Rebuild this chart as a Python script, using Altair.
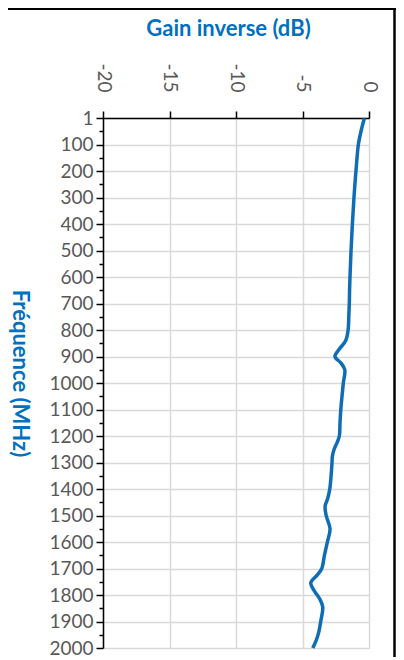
import altair as alt
import pandas as pd

freq = [1, 50, 100, 150, 200, 250, 300, 350, 400, 450,
        500, 550, 600, 650, 700, 750, 800, 840, 870, 900,
        925, 950, 1000, 1050, 1100, 1150, 1200, 1225, 1250, 1275,
        1300, 1350, 1400, 1435, 1465, 1500, 1550, 1600, 1650, 1700,
        1725, 1755, 1785, 1815, 1845, 1900, 1945, 1975, 2000]
gain = [-0.35, -0.6, -0.8, -0.9, -0.98, -1.06, -1.13, -1.19, -1.25, -1.3,
        -1.35, -1.39, -1.43, -1.46, -1.48, -1.52, -1.57, -1.75, -2.2, -2.56,
        -2.1, -1.82, -1.93, -2.03, -2.12, -2.18, -2.23, -2.4, -2.62, -2.75,
        -2.78, -2.85, -2.95, -3.1, -3.3, -3.22, -2.93, -3.13, -3.35, -3.55,
        -3.9, -4.38, -4.1, -3.7, -3.48, -3.63, -3.8, -4.0, -4.23]

x_ticks = [-20, -15, -10, -5, 0]
y_ticks = list(range(0, 2001, 50))

df = pd.DataFrame({"freq": freq, "gain": gain})

FONT = "Lato"
BLUE = "#0070C0"
GREY = "#595959"

line = alt.Chart(df).mark_line(
    color="#0F6DB5", strokeWidth=3.5, interpolate="catmull-rom"
).encode(
    x=alt.X("gain:Q",
            scale=alt.Scale(domain=[-20, 0], nice=False, zero=False),
            axis=alt.Axis(orient="top", values=x_ticks, title="Gain inverse (dB)",
                          titleFont=FONT, titleFontSize=22, titleFontWeight="bold",
                          titleColor=BLUE, titleX=125, titleY=-83,
                          titleAlign="center", titleBaseline="alphabetic",
                          labelExpr="'' + datum.value",
                          labelAngle=90, labelAlign="right", labelBaseline="middle",
                          labelFont=FONT, labelFontSize=19, labelColor=GREY,
                          labelPadding=19, tickSize=7, tickColor="black", tickWidth=1.5,
                          domainColor="black", domainWidth=1.5,
                          gridColor="#d9d9d9", gridWidth=1.5)),
    y=alt.Y("freq:Q",
            scale=alt.Scale(domain=[0, 2000], reverse=True, nice=False, zero=False),
            axis=alt.Axis(orient="left", values=y_ticks, title="Fréquence (MHz)",
                          titleFont=FONT, titleFontSize=22, titleFontWeight="bold",
                          titleColor=BLUE, titleAngle=90, titleX=-91, titleY=255,
                          titleAlign="center", titleBaseline="alphabetic",
                          labelExpr="datum.value == 0 ? '1' : (datum.value % 100 == 0 ? '' + datum.value : '')",
                          labelFont=FONT, labelFontSize=19, labelColor=GREY,
                          labelPadding=3,
                          tickSize={"condition": {"test": "datum.value % 100 == 0", "value": 7}, "value": 4},
                          tickColor="black", tickWidth=1.5,
                          domainColor="black", domainWidth=1.5,
                          gridColor="#d9d9d9", gridWidth=1.5,
                          gridOpacity={"condition": {"test": "datum.value % 100 == 0", "value": 1}, "value": 0})),
    order=alt.Order("freq:Q"),
)

one = pd.DataFrame({"a": [0]})
top_border = alt.Chart(one).mark_rule(color="black", strokeWidth=2).encode(
    x=alt.value(-95), x2=alt.value(293), y=alt.value(-109))
right_border = alt.Chart(one).mark_rule(color="black", strokeWidth=2.5).encode(
    x=alt.value(291.5), y=alt.value(-110), y2=alt.value(560))

chart = alt.layer(line, top_border, right_border).properties(
    width=266, height=530,
    autosize=alt.AutoSizeParams(type="none"),
    padding={"left": 95, "top": 110, "right": 27, "bottom": 9},
).configure_view(stroke=None).configure(background="white")

chart.save("out.html", embed_options={"renderer": "svg", "actions": False})
